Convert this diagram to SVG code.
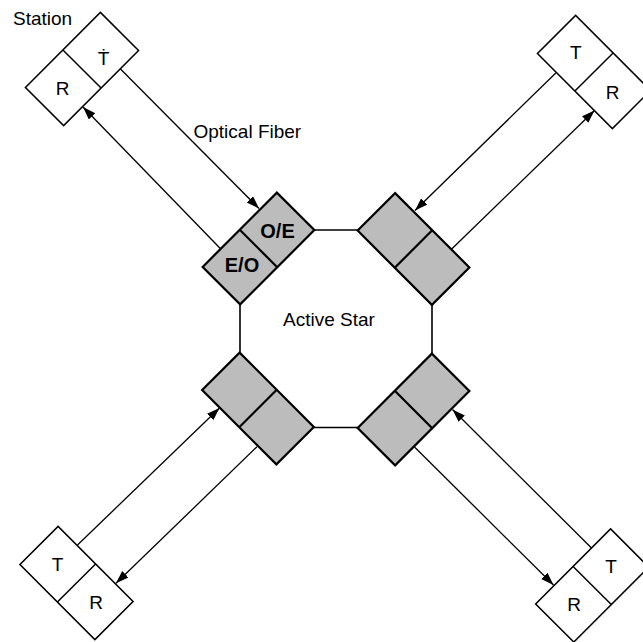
<svg xmlns="http://www.w3.org/2000/svg" width="643" height="642" viewBox="0 0 643 642">
<style>
.bg{fill:#ffffff}
.st{fill:#ffffff;stroke:#000;stroke-width:1.5}
.cv{fill:#bcbcbc;stroke:#000;stroke-width:2.2}
.div{stroke:#000;stroke-width:1.5}
.cdiv{stroke:#000;stroke-width:2.2}
.edge{stroke:#000;stroke-width:1.6;fill:none}
.fib{stroke:#000;stroke-width:1.3;fill:none}
.lbl{font-family:"Liberation Sans",Arial,Helvetica,sans-serif;font-size:19px;fill:#000}
.blbl{font-family:"Liberation Sans",Arial,Helvetica,sans-serif;font-size:20px;font-weight:bold;fill:#000;text-anchor:middle}
.tr{font-family:"Liberation Sans",Arial,Helvetica,sans-serif;font-size:19px;fill:#000;text-anchor:middle}
</style>
<defs>
<marker id="arr" markerUnits="userSpaceOnUse" markerWidth="14" markerHeight="10" refX="13" refY="4.5" orient="auto">
<path d="M0,0 L13,4.5 L0,9 Z" fill="#000"/>
</marker>
</defs>
<rect class="bg" x="0" y="0" width="643" height="642"/>

<g id="star-edges">
<line class="edge" x1="314.4" y1="230" x2="357.6" y2="230"/>
<line class="edge" x1="240" y1="304.4" x2="240" y2="352.6"/>
<line class="edge" x1="432" y1="305" x2="432" y2="353.6"/>
<line class="edge" x1="313.9" y1="427.5" x2="357.6" y2="427.5"/>
<text class="lbl" x="283" y="326" font-size="20">Active Star</text>
</g>

<g id="converter-tl">
<g transform="translate(258.5,248.5) rotate(-45)">
<rect class="cv" x="-52.5" y="-26.5" width="105" height="53"/>
<line class="cdiv" x1="0" y1="-26.5" x2="0" y2="26.5"/>
</g>
<text class="blbl" x="277.5" y="237.5">O/E</text>
<text class="blbl" x="242" y="272">E/O</text>
</g>

<g id="converter-tr">
<g transform="translate(413.5,249) rotate(45)">
<rect class="cv" x="-52.5" y="-26.5" width="105" height="53"/>
<line class="cdiv" x1="0" y1="-26.5" x2="0" y2="26.5"/>
</g>
</g>

<g id="converter-bl">
<g transform="translate(258,408.5) rotate(45)">
<rect class="cv" x="-52.5" y="-26.5" width="105" height="53"/>
<line class="cdiv" x1="0" y1="-26.5" x2="0" y2="26.5"/>
</g>
</g>

<g id="converter-br">
<g transform="translate(413.5,409.5) rotate(-45)">
<rect class="cv" x="-52.5" y="-26.5" width="105" height="53"/>
<line class="cdiv" x1="0" y1="-26.5" x2="0" y2="26.5"/>
</g>
</g>

<g id="station-tl">
<g transform="translate(82,69) rotate(-45)">
<rect class="st" x="-53" y="-27" width="106" height="54"/>
<line class="div" x1="0" y1="-27" x2="0" y2="27"/>
</g>
<text class="tr" x="103.5" y="65">Ṫ</text>
<text class="tr" x="62.5" y="94.5">R</text>
<text class="lbl" x="13" y="25" font-size="18.5">Station</text>
</g>

<g id="station-tr">
<g transform="translate(594,72) rotate(45)">
<rect class="st" x="-53" y="-27" width="106" height="54"/>
<line class="div" x1="0" y1="-27" x2="0" y2="27"/>
</g>
<text class="tr" x="575.7" y="58.5">T</text>
<text class="tr" x="612.7" y="98.5">R</text>
</g>

<g id="station-bl">
<g transform="translate(76.5,583) rotate(45)">
<rect class="st" x="-53" y="-27" width="106" height="54"/>
<line class="div" x1="0" y1="-27" x2="0" y2="27"/>
</g>
<text class="tr" x="57.5" y="570.7">T</text>
<text class="tr" x="96" y="609.3">R</text>
</g>

<g id="station-br">
<g transform="translate(592.2,585.5) rotate(-45)">
<rect class="st" x="-53" y="-27" width="106" height="54"/>
<line class="div" x1="0" y1="-27" x2="0" y2="27"/>
</g>
<text class="tr" x="611" y="572.7">T</text>
<text class="tr" x="574" y="610.7">R</text>
</g>

<g id="connectors">
<line class="fib" x1="120.5" y1="69" x2="259" y2="208.5" marker-end="url(#arr)"/>
<line class="fib" x1="220.3" y1="248.5" x2="83" y2="107" marker-end="url(#arr)"/>
<line class="fib" x1="555.8" y1="73" x2="415" y2="210.5" marker-end="url(#arr)"/>
<line class="fib" x1="451.7" y1="249" x2="594.5" y2="110.5" marker-end="url(#arr)"/>
<line class="fib" x1="77.5" y1="545" x2="219.5" y2="408" marker-end="url(#arr)"/>
<line class="fib" x1="257" y1="446.7" x2="116" y2="583.3" marker-end="url(#arr)"/>
<line class="fib" x1="591.5" y1="548" x2="452.5" y2="409.5" marker-end="url(#arr)"/>
<line class="fib" x1="414.5" y1="447" x2="553.5" y2="585" marker-end="url(#arr)"/>
<text class="lbl" x="193.5" y="138.3" font-size="19.5">Optical Fiber</text>
</g>
</svg>
